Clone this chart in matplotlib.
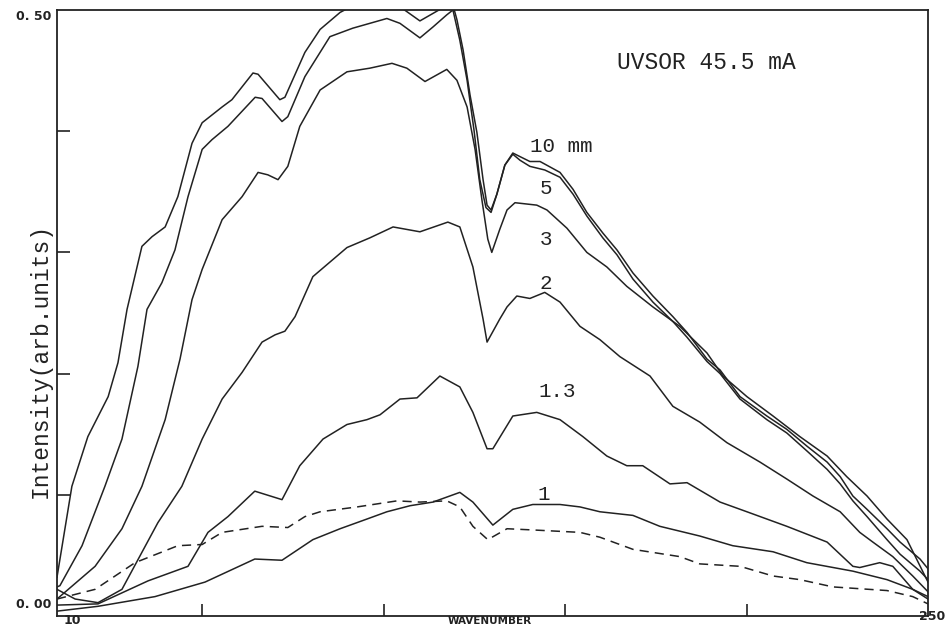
import matplotlib
matplotlib.use("Agg")
import matplotlib.pyplot as plt

# wavenumber / intensity, one pair per aperture
x_10mm = [10.0, 14.1, 18.5, 24.1, 26.8, 29.3, 33.4, 36.2, 39.8, 43.3, 47.2, 50.0, 55.5, 58.2, 64.0, 65.4,
          71.4, 72.8, 78.3, 82.5, 88.0, 89.9, 93.5, 100.4, 105.3, 110.0, 116.4, 119.1, 120.2, 121.9, 123.8,
          125.7, 127.4, 128.5, 129.6, 131.2, 133.4, 135.6, 137.6, 140.3, 143.1, 148.6, 152.2, 156.0, 160.4,
          164.3, 168.7, 174.2, 179.7, 183.6, 189.1, 192.7, 198.2, 205.6, 211.1, 216.7, 222.2, 225.8, 229.3,
          233.2, 238.7, 242.3, 247.8, 250.0]
y_10mm = [0.032, 0.107, 0.148, 0.181, 0.209, 0.253, 0.305, 0.313, 0.321, 0.346, 0.390, 0.407, 0.420, 0.426,
          0.448, 0.447, 0.426, 0.428, 0.465, 0.484, 0.498, 0.501, 0.504, 0.506, 0.501, 0.491, 0.502, 0.504,
          0.492, 0.467, 0.430, 0.399, 0.360, 0.339, 0.335, 0.348, 0.372, 0.382, 0.379, 0.375, 0.375, 0.366,
          0.352, 0.333, 0.316, 0.302, 0.283, 0.264, 0.247, 0.234, 0.212, 0.203, 0.181, 0.165, 0.154, 0.140,
          0.127, 0.115, 0.099, 0.088, 0.072, 0.061, 0.047, 0.039]

x_5mm = [10.0, 10.8, 16.9, 23.2, 27.9, 32.3, 34.8, 38.9, 42.5, 46.1, 50.0, 52.7, 57.1, 64.6, 66.5, 72.0,
         73.6, 78.3, 85.2, 91.5, 100.9, 104.5, 110.0, 113.6, 117.4, 119.1, 121.0, 123.0, 124.9, 126.5, 128.2,
         129.6, 131.2, 133.4, 135.6, 137.6, 140.3, 144.4, 148.6, 152.2, 156.0, 160.4, 164.3, 168.7, 174.2,
         179.7, 183.6, 189.1, 192.7, 198.2, 205.6, 211.1, 216.7, 222.2, 225.8, 229.3, 233.2, 238.7, 242.3,
         247.8, 250.0]
y_5mm = [0.024, 0.025, 0.058, 0.107, 0.146, 0.206, 0.253, 0.275, 0.302, 0.346, 0.385, 0.393, 0.404, 0.428,
         0.427, 0.408, 0.412, 0.445, 0.478, 0.485, 0.493, 0.489, 0.477, 0.486, 0.496, 0.500, 0.475, 0.442,
         0.401, 0.360, 0.337, 0.333, 0.348, 0.372, 0.381, 0.376, 0.371, 0.368, 0.362, 0.348, 0.330, 0.312,
         0.298, 0.278, 0.259, 0.243, 0.230, 0.210, 0.200, 0.179, 0.162, 0.151, 0.136, 0.121, 0.109, 0.095,
         0.082, 0.063, 0.051, 0.037, 0.030]

x_3mm = [10.0, 20.5, 27.9, 33.4, 39.8, 43.9, 47.2, 50.0, 55.5, 61.0, 65.4, 68.1, 70.9, 73.6, 76.9, 82.5,
         89.9, 96.2, 102.3, 106.4, 111.4, 117.4, 120.2, 123.0, 125.2, 127.1, 128.7, 129.8, 132.0, 134.0,
         136.2, 142.2, 145.0, 150.5, 156.0, 161.5, 167.0, 174.2, 181.6, 189.1, 193.5, 200.1, 207.3, 214.7,
         222.2, 227.6, 233.2, 238.7, 244.2, 250.0]
y_3mm = [0.014, 0.041, 0.072, 0.107, 0.162, 0.212, 0.261, 0.286, 0.327, 0.346, 0.366, 0.364, 0.360, 0.371,
         0.404, 0.434, 0.449, 0.452, 0.456, 0.452, 0.441, 0.451, 0.442, 0.420, 0.385, 0.343, 0.311, 0.300,
         0.319, 0.335, 0.341, 0.339, 0.335, 0.320, 0.300, 0.288, 0.272, 0.255, 0.239, 0.217, 0.198, 0.181,
         0.165, 0.148, 0.132, 0.115, 0.099, 0.080, 0.063, 0.028]

x_2mm = [10.0, 15.0, 21.3, 27.9, 37.8, 44.4, 50.0, 55.5, 61.0, 66.5, 70.1, 72.8, 75.6, 80.5, 89.9, 96.2,
         102.6, 110.0, 117.7, 121.0, 124.6, 127.4, 128.5, 132.0, 134.0, 136.7, 140.3, 144.4, 148.6, 154.1,
         159.6, 165.1, 173.4, 179.7, 187.1, 194.6, 203.7, 211.1, 218.3, 225.8, 231.2, 234.8, 240.3, 245.8,
         250.0]
y_2mm = [0.022, 0.014, 0.011, 0.022, 0.077, 0.107, 0.146, 0.179, 0.201, 0.226, 0.232, 0.235, 0.247, 0.280,
         0.304, 0.312, 0.321, 0.317, 0.325, 0.321, 0.288, 0.245, 0.226, 0.245, 0.255, 0.264, 0.262, 0.267,
         0.259, 0.239, 0.228, 0.214, 0.198, 0.173, 0.160, 0.143, 0.127, 0.113, 0.099, 0.086, 0.069, 0.061,
         0.049, 0.033, 0.020]

x_13mm = [10.0, 21.3, 35.1, 46.1, 51.6, 57.1, 64.5, 72.0, 76.9, 83.3, 89.9, 95.4, 99.0, 104.5, 109.2,
          115.5, 121.0, 124.6, 128.5, 130.1, 135.6, 142.2, 148.6, 154.9, 161.5, 167.0, 171.4, 178.9, 183.6,
          192.7, 200.1, 211.1, 222.2, 229.3, 231.2, 236.7, 240.3, 245.8, 250.0]
y_13mm = [0.009, 0.010, 0.029, 0.041, 0.069, 0.082, 0.103, 0.096, 0.124, 0.146, 0.158, 0.162, 0.166, 0.179,
          0.180, 0.198, 0.189, 0.168, 0.138, 0.138, 0.165, 0.168, 0.162, 0.148, 0.132, 0.124, 0.124, 0.109,
          0.110, 0.094, 0.086, 0.074, 0.061, 0.041, 0.040, 0.044, 0.041, 0.022, 0.014]

x_1mm = [10.0, 21.3, 37.0, 50.8, 64.5, 72.0, 80.5, 88.0, 95.4, 100.9, 107.3, 113.6, 121.0, 124.6, 130.1,
         135.6, 141.1, 148.6, 154.1, 159.6, 168.7, 176.1, 187.1, 196.2, 207.3, 216.6, 229.3, 238.7, 245.8,
         250.0]
y_1mm = [0.004, 0.008, 0.016, 0.028, 0.047, 0.046, 0.063, 0.072, 0.080, 0.086, 0.091, 0.094, 0.102, 0.094,
         0.075, 0.088, 0.092, 0.092, 0.090, 0.086, 0.083, 0.074, 0.066, 0.058, 0.053, 0.044, 0.037, 0.030,
         0.022, 0.016]

x_dash = [10.0, 20.5, 31.5, 43.3, 50.0, 55.5, 66.5, 73.6, 78.3, 82.5, 92.7, 103.7, 110.0, 117.4, 121.0,
          124.6, 128.7, 134.0, 141.1, 154.1, 159.6, 168.7, 181.6, 187.1, 198.2, 207.3, 214.7, 223.8, 238.7,
          245.8, 250.0]
y_dash = [0.014, 0.022, 0.044, 0.058, 0.059, 0.069, 0.074, 0.073, 0.082, 0.086, 0.090, 0.095, 0.094, 0.095,
          0.090, 0.074, 0.063, 0.072, 0.071, 0.069, 0.065, 0.055, 0.049, 0.043, 0.041, 0.033, 0.030, 0.024,
          0.021, 0.016, 0.010]

W, H = 953, 627
fig = plt.figure(figsize=(W / 100, H / 100), dpi=100)
ax = fig.add_axes([57 / W, 1 - 616 / H, (928 - 57) / W, (616 - 10) / H])

ink = "#222222"
for xs, ys in [(x_10mm, y_10mm), (x_5mm, y_5mm), (x_3mm, y_3mm), (x_2mm, y_2mm),
               (x_13mm, y_13mm), (x_1mm, y_1mm)]:
    ax.plot(xs, ys, color=ink, lw=1.1, solid_joinstyle="round")
ax.plot(x_dash, y_dash, color=ink, lw=1.1, ls=(0, (6, 4)))

ax.set_xlim(10, 250)
ax.set_ylim(0, 0.5)
ax.set_xticks([50, 100, 150, 200])
ax.set_xticklabels([])
ax.set_yticks([0.1, 0.2, 0.3, 0.4])
ax.set_yticklabels([])
ax.tick_params(direction="in", length=9, width=1.2, colors=ink)
for s in ax.spines.values():
    s.set_linewidth(1.3)
    s.set_color(ink)

mono = "Liberation Mono"
ax.text(189, 0.457, "UVSOR 45.5 mA", family=mono, fontsize=16.5, ha="center", va="center", color=ink)
curve_labels = [("10 mm", 149, 0.387), ("5", 144.7, 0.353), ("3", 144.7, 0.311),
                ("2", 144.7, 0.274), ("1.3", 147.8, 0.185), ("1", 144.2, 0.100)]
for txt, lx, ly in curve_labels:
    ax.text(lx, ly, txt, family=mono, fontsize=15, ha="center", va="center", color=ink)

fig.text(40 / W, 1 - 361 / H, "Intensity(arb.units)", family=mono, fontsize=16.5,
         rotation=90, ha="center", va="center", color=ink)

tick_kw = dict(fontsize=9, fontweight="bold", color=ink, va="center")
fig.text(51 / W, 1 - 16 / H, "0. 50", ha="right", **tick_kw)
fig.text(51 / W, 1 - 605 / H, "0. 00", ha="right", **tick_kw)
fig.text(72 / W, 1 - 620 / H, "10", ha="center", **tick_kw)
fig.text(932 / W, 1 - 617 / H, "250", ha="center", **tick_kw)
fig.text(490 / W, 1 - 621 / H, "WAVENUMBER", ha="center", fontsize=7.5, fontweight="bold",
         color=ink, va="center")

fig.savefig("out.png", dpi=100)
